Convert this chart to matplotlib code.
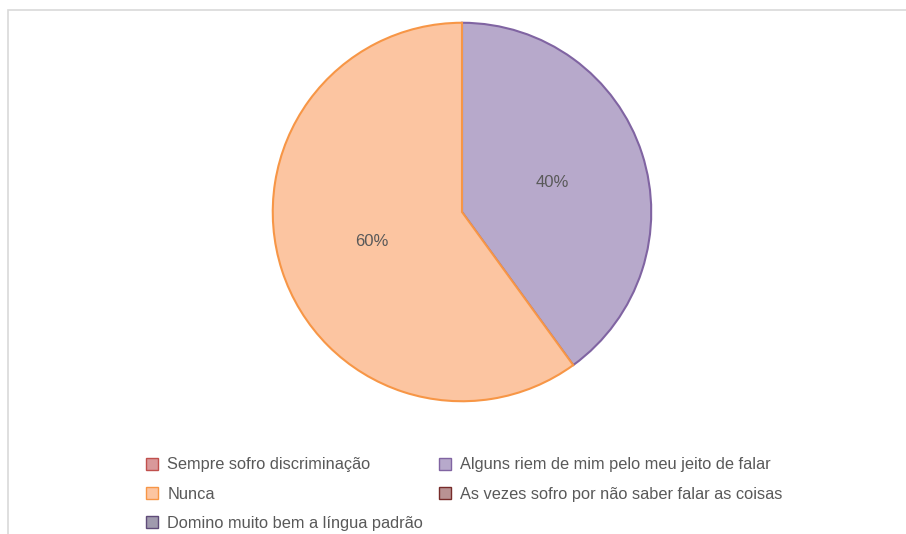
import matplotlib

matplotlib.use("Agg")
import matplotlib.pyplot as plt
from matplotlib.patches import Patch, Rectangle

plt.rcParams["font.family"] = ["Liberation Sans Narrow", "Liberation Sans", "DejaVu Sans"]

categories = [
    "Sempre sofro discriminação",
    "Alguns riem de mim pelo meu jeito de falar",
    "Nunca",
    "As vezes sofro por não saber falar as coisas",
    "Domino muito bem a língua padrão",
]
values = [0, 40, 60, 0, 0]

fills = ["#D9989A", "#B7A9CB", "#FCC5A1", "#B99293", "#A09AAE"]
edges = ["#C0504D", "#8064A2", "#F79646", "#772C2A", "#5F4B79"]
text_grey = "#595959"

W, H = 906, 534
fig = plt.figure(figsize=(W / 100, H / 100), dpi=100)

# chart frame (cut by image on the right and bottom)
fig.patches.append(
    Rectangle((8 / W, -0.1), 1.2, (H - 10) / H + 0.1, transform=fig.transFigure,
              fill=False, edgecolor="#D9D9D9", linewidth=1.2)
)

# pie: centre (462, 212) px, radius 190 px
r = 190
ax = fig.add_axes([(462 - r) / W, 1 - (212 + r) / H, 2 * r / W, 2 * r / H])

shown = [i for i, v in enumerate(values) if v > 0]
wedges, texts, autotexts = ax.pie(
    [values[i] for i in shown],
    colors=[fills[i] for i in shown],
    startangle=90,
    counterclock=False,
    radius=1,
    autopct="%1.0f%%",
    pctdistance=0.5,
    wedgeprops=dict(linewidth=1.5),
    textprops=dict(color=text_grey, fontsize=12),
)
for w, i in zip(wedges, shown):
    w.set_edgecolor(edges[i])
ax.set_xlim(-1.004, 1.004)
ax.set_ylim(-1.004, 1.004)
ax.axis("off")

# legend, filled row-wise like the original
order = [0, 2, 4, 1, 3]
handles = [
    Patch(facecolor=fills[i], edgecolor=edges[i], linewidth=1.0, label=categories[i])
    for i in order
]
fig.legend(
    handles=handles,
    ncol=2,
    loc="upper left",
    bbox_to_anchor=(146 / W, 1 - 457.5 / H),
    frameon=False,
    fontsize=11.8,
    labelcolor=text_grey,
    handlelength=0.75,
    handleheight=0.75,
    handletextpad=0.55,
    labelspacing=0.86,
    columnspacing=0.95,
    borderaxespad=0,
    borderpad=0,
)

fig.savefig("out.png", dpi=100)
